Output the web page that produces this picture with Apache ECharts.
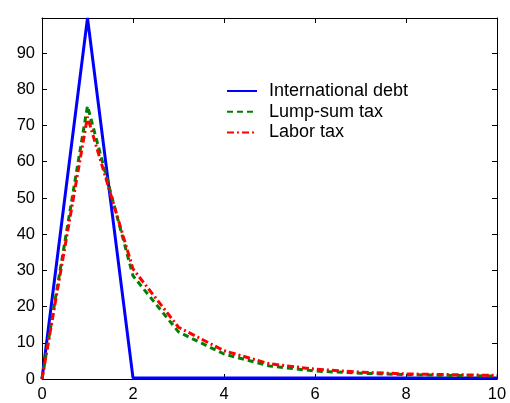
<!DOCTYPE html>
<html><head><meta charset="utf-8">
<script src="https://cdn.jsdelivr.net/npm/echarts@6/dist/echarts.min.js"></script>
<style>html,body{margin:0;padding:0;background:#fff}#c{width:510px;height:403px}</style>
</head><body><div id="c"></div>
<script>
const periods = [0,1,2,3,4,5,6,7,8,9,10];
const intlDebt = [0, 99.7, 0.3, 0.3, 0.3, 0.3, 0.3, 0.3, 0.3, 0.3, 0.3];
const lumpSum  = [0, 75.4, 28.5, 13.0, 6.9, 3.6, 2.2, 1.6, 1.2, 1.0, 0.8];
const laborTax = [0, 72.4, 30.4, 14.3, 7.8, 4.2, 2.7, 1.9, 1.4, 1.2, 1.0];
const seriesNames = ['International debt','Lump-sum tax','Labor tax'];

const font = 'Liberation Sans, Arial, sans-serif';
const pair = arr => periods.map((x,i)=>[x, arr[i]]);
const axisBase = {
  axisLine:{show:true, onZero:false, lineStyle:{color:'#000', width:1}},
  axisTick:{show:true, inside:true, length:5, lineStyle:{color:'#000'}},
  splitLine:{show:false}
};
const chart = echarts.init(document.getElementById('c'));
chart.setOption({
  animation:false,
  backgroundColor:'#fff',
  grid:{left:42, right:13, top:18, bottom:22},
  legend:{
    orient:'vertical', left:221, top:77, itemWidth:30, itemHeight:14, itemGap:2.7,
    itemStyle:{opacity:0},
    textStyle:{fontFamily:font, fontSize:18, lineHeight:18, color:'#000', padding:[0,0,0,7]},
    data:seriesNames
  },
  xAxis:[
    Object.assign({type:'value', min:0, max:10, interval:2, position:'bottom',
      axisLabel:{fontFamily:font, fontSize:16.5, color:'#000', margin:7}}, axisBase),
    Object.assign({type:'value', min:0, max:10, interval:2, position:'top',
      axisLabel:{show:false}}, axisBase)
  ],
  yAxis:[
    Object.assign({type:'value', min:0, max:99.7, interval:10, position:'left',
      axisLabel:{fontFamily:font, fontSize:16.5, color:'#000', margin:7, showMaxLabel:false}}, axisBase),
    Object.assign({type:'value', min:0, max:99.7, interval:10, position:'right',
      axisLabel:{show:false}}, axisBase)
  ],
  series:[
    {name:seriesNames[0], type:'line', data:pair(intlDebt), symbol:'none', showSymbol:false,
      lineStyle:{color:'#0000ff', width:3, type:'solid'}, itemStyle:{color:'#0000ff'}, z:3},
    {name:seriesNames[1], type:'line', data:pair(lumpSum), symbol:'none', showSymbol:false,
      lineStyle:{color:'#008000', width:3, type:[6,4]}, itemStyle:{color:'#008000'}, z:4},
    {name:seriesNames[2], type:'line', data:pair(laborTax), symbol:'none', showSymbol:false,
      lineStyle:{color:'#ff0000', width:3, type:[7,3,2,3]}, itemStyle:{color:'#ff0000'}, z:5}
  ]
});
</script></body></html>
